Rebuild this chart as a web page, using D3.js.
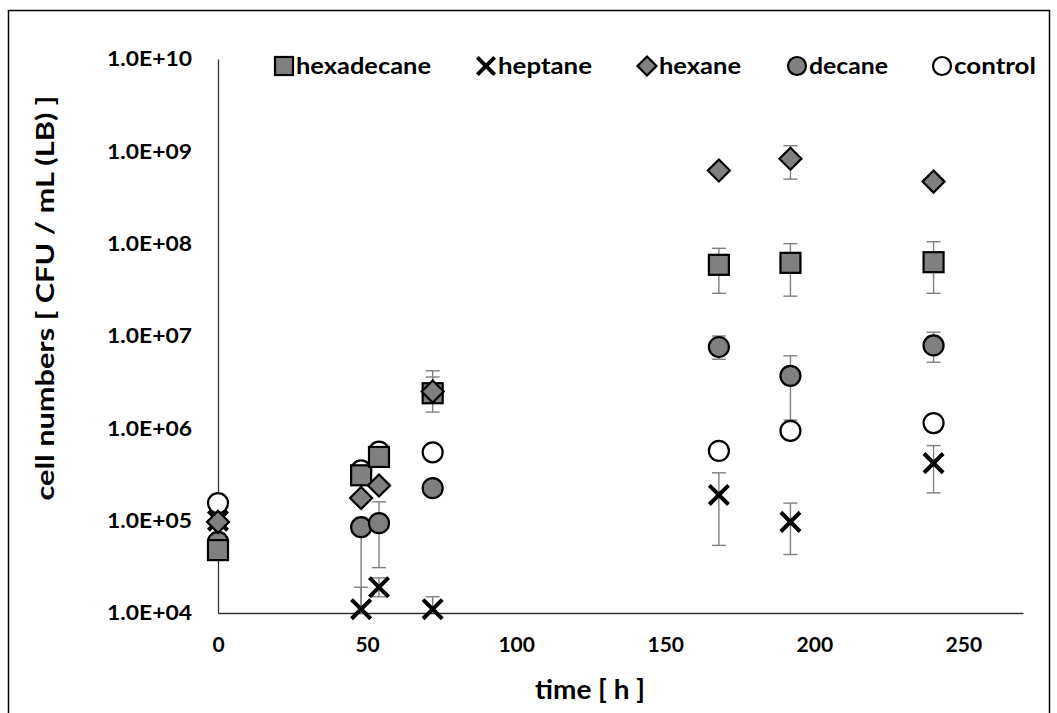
<!DOCTYPE html>
<html>
<head>
<meta charset="utf-8">
<script src="https://cdn.jsdelivr.net/npm/d3@7"></script>
<style>
  body { margin: 0; background: #fff; }
  svg { display: block; }
  text { font-family: Lato, "Open Sans", sans-serif; font-weight: bold; fill: #000; }
</style>
</head>
<body>
<script>
// cell counts over time, five solvent treatments (log axis)

var times = [0, 48, 54, 72, 168, 192, 240];

var hexadecane = [4.8e4, 3.1e5, 4.9e5, 2.4e6, 5.9e7, 6.2e7, 6.3e7],
    hexadecaneHi = [null, null, null, 4.2e6, 8.9e7, 1.0e8, 1.05e8],
    hexadecaneLo = [null, null, null, 1.5e6, 2.9e7, 2.7e7, 2.9e7];

var heptane = [1.0e5, 1.1e4, 1.9e4, 1.1e4, 1.9e5, 9.7e4, 4.2e5],
    heptaneHi = [null, 1.9e4, 2.4e4, 1.5e4, 3.3e5, 1.55e5, 6.5e5],
    heptaneLo = [null, null, 1.5e4, null, 5.4e4, 4.3e4, 2.0e5];

var hexane = [9.7e4, 1.76e5, 2.4e5, 2.5e6, 6.2e8, 8.3e8, 4.7e8],
    hexaneHi = [null, null, null, 3.6e6, null, 1.15e9, null],
    hexaneLo = [null, null, null, null, null, 5.0e8, null];

var decane = [5.9e4, 8.5e4, 9.4e4, 2.25e5, 7.6e6, 3.7e6, 7.9e6],
    decaneHi = [null, null, 1.6e5, null, 1.0e7, 6.1e6, 1.1e7],
    decaneLo = [null, 1.0e4, 3.1e4, null, 5.6e6, 1.23e6, 5.2e6];

var control = [1.55e5, 3.5e5, 5.6e5, 5.5e5, 5.7e5, 9.4e5, 1.14e6];

var xTicks = [0, 50, 100, 150, 200, 250],
    yTicks = [1e4, 1e5, 1e6, 1e7, 1e8, 1e9, 1e10];

// legend order; draw order is set separately below
var series = [
    {name: 'hexadecane', values: hexadecane, hi: hexadecaneHi, lo: hexadecaneLo, shape: 'square', fill: '#808080', w: 135},
    {name: 'heptane', values: heptane, hi: heptaneHi, lo: heptaneLo, shape: 'cross', fill: 'none', w: 94},
    {name: 'hexane', values: hexane, hi: hexaneHi, lo: hexaneLo, shape: 'diamond', fill: '#808080', w: 82},
    {name: 'decane', values: decane, hi: decaneHi, lo: decaneLo, shape: 'circle', fill: '#808080', w: 79},
    {name: 'control', values: control, hi: null, lo: null, shape: 'circle', fill: '#fff', w: 82}
];
var drawOrder = ['control', 'decane', 'hexadecane', 'heptane', 'hexane'];

var width = 1057, height = 713;

var svg = d3.select('body').append('svg')
    .attr('width', width)
    .attr('height', height);

// outer frame
svg.append('rect')
    .attr('x', 8.5).attr('y', 10.5)
    .attr('width', 1041).attr('height', 720)
    .attr('fill', 'none')
    .attr('stroke', '#000')
    .attr('stroke-width', 1.5);

var x = d3.scaleLinear().domain([0, 270]).range([218, 1023]);
var y = d3.scaleLog().domain([1e4, 1e10]).range([613, 59]);

function expLabel(v) {
    var p = Math.round(Math.log10(v));
    return '1.0E+' + (p < 10 ? '0' + p : p);
}

// axes
var yAxis = svg.append('g')
    .attr('transform', 'translate(' + x(0) + ',0)')
    .call(d3.axisLeft(y).tickValues(yTicks).tickSize(0).tickPadding(26).tickFormat(expLabel));
var xAxis = svg.append('g')
    .attr('transform', 'translate(0,' + y(1e4) + ')')
    .call(d3.axisBottom(x).tickValues(xTicks).tickSize(0).tickPadding(24).tickFormat(d3.format('d')));

[xAxis, yAxis].forEach(function(ax) {
    ax.attr('font-family', null).attr('font-size', null);
    ax.select('.domain').attr('stroke', '#333').attr('stroke-width', 1.3);
    ax.selectAll('text')
        .style('font-size', '21px')
        .attr('fill', '#000');
});
yAxis.selectAll('text')
    .attr('textLength', 85)
    .attr('lengthAdjust', 'spacingAndGlyphs');

svg.append('text')
    .attr('x', 590)
    .attr('y', 699)
    .attr('text-anchor', 'middle')
    .attr('textLength', 110)
    .attr('lengthAdjust', 'spacingAndGlyphs')
    .style('font-size', '26px')
    .text('time [ h ]');

svg.append('text')
    .attr('transform', 'translate(54,298) rotate(-90)')
    .attr('text-anchor', 'middle')
    .attr('textLength', 405)
    .attr('lengthAdjust', 'spacingAndGlyphs')
    .style('font-size', '25px')
    .text('cell numbers [ CFU / mL (LB) ]');

// symbol drawing
function drawMarker(g, shape, fill, cx, cy, s) {
    if (shape === 'square') {
        g.append('rect')
            .attr('x', cx - s / 2).attr('y', cy - s / 2)
            .attr('width', s).attr('height', s)
            .attr('fill', fill).attr('stroke', '#000').attr('stroke-width', 2.2);
    } else if (shape === 'circle') {
        g.append('circle')
            .attr('cx', cx).attr('cy', cy).attr('r', s / 2)
            .attr('fill', fill).attr('stroke', '#000').attr('stroke-width', 2.2);
    } else if (shape === 'diamond') {
        var h = s * 0.5;
        g.append('path')
            .attr('d', 'M' + cx + ',' + (cy - h) + 'L' + (cx + h) + ',' + cy + 'L' + cx + ',' + (cy + h) + 'L' + (cx - h) + ',' + cy + 'Z')
            .attr('fill', fill).attr('stroke', '#000').attr('stroke-width', 2.2);
    } else if (shape === 'cross') {
        var c = s * 0.48;
        g.append('path')
            .attr('d', 'M' + (cx - c) + ',' + (cy - c) + 'L' + (cx + c) + ',' + (cy + c) +
                       'M' + (cx - c) + ',' + (cy + c) + 'L' + (cx + c) + ',' + (cy - c))
            .attr('fill', 'none').attr('stroke', '#000').attr('stroke-width', 4);
    }
}

// error bars first, markers on top
var errG = svg.append('g').attr('stroke', '#808080').attr('stroke-width', 1.4);
series.forEach(function(s) {
    if (!s.hi) return;
    times.forEach(function(t, i) {
        var px = x(t);
        [s.hi[i], s.lo[i]].forEach(function(e) {
            if (e === null) return;
            errG.append('line')
                .attr('x1', px).attr('x2', px)
                .attr('y1', y(s.values[i])).attr('y2', y(e));
            errG.append('line')
                .attr('x1', px - 7).attr('x2', px + 7)
                .attr('y1', y(e)).attr('y2', y(e));
        });
    });
});

var markG = svg.append('g');
drawOrder.forEach(function(name) {
    var s = series.filter(function(d) { return d.name === name; })[0];
    s.values.forEach(function(v, i) {
        drawMarker(markG, s.shape, s.fill, x(times[i]), y(v), s.shape === 'diamond' ? 22 : 20);
    });
});

// legend
var legendPos = [284, 486, 647, 797, 942],
    legendY = 66;
var legG = svg.append('g');
series.forEach(function(s, i) {
    drawMarker(legG, s.shape, s.fill, legendPos[i], legendY, s.shape === 'diamond' ? 19 : 18);
    legG.append('text')
        .attr('x', legendPos[i] + 12)
        .attr('y', legendY + 8)
        .attr('textLength', s.w)
        .attr('lengthAdjust', 'spacingAndGlyphs')
        .style('font-size', '23px')
        .text(s.name);
});
</script>
</body>
</html>
